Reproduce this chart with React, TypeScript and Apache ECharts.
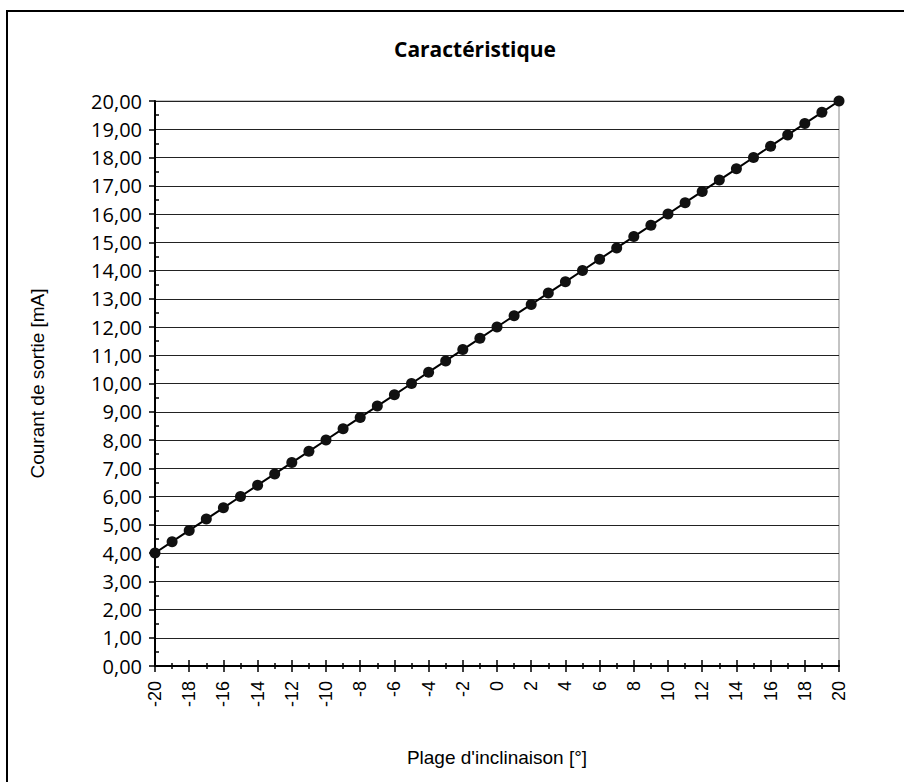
import React, { useEffect, useRef } from "react";
import * as echarts from "echarts";

const chartTitle = "Caractéristique";
const xAxisName = "Plage d'inclinaison [°]";
const yAxisName = "Courant de sortie [mA]";

const inclinaison = [
  -20, -19, -18, -17, -16, -15, -14, -13, -12, -11, -10, -9, -8, -7, -6, -5, -4, -3, -2, -1,
  0, 1, 2, 3, 4, 5, 6, 7, 8, 9, 10, 11, 12, 13, 14, 15, 16, 17, 18, 19, 20,
];
const courant = [
  4.0, 4.4, 4.8, 5.2, 5.6, 6.0, 6.4, 6.8, 7.2, 7.6, 8.0, 8.4, 8.8, 9.2, 9.6, 10.0, 10.4, 10.8, 11.2, 11.6,
  12.0, 12.4, 12.8, 13.2, 13.6, 14.0, 14.4, 14.8, 15.2, 15.6, 16.0, 16.4, 16.8, 17.2, 17.6, 18.0, 18.4, 18.8, 19.2, 19.6, 20.0,
];

const fmtY = (v: number) => v.toFixed(2).replace(".", ",");

export default function App() {
  const ref = useRef<HTMLDivElement>(null);
  useEffect(() => {
    document.body.style.margin = "0";
    if (!ref.current) return;
    const chart = echarts.init(ref.current, null, { renderer: "svg" });
    const xBase = {
      type: "value" as const,
      min: -20,
      max: 20,
      interval: 2,
      position: "bottom" as const,
      splitLine: { show: false },
    };
    const yBase = {
      type: "value" as const,
      min: 0,
      max: 20,
      interval: 1,
      position: "left" as const,
    };
    chart.setOption({
      animation: false,
      backgroundColor: "#ffffff",
      grid: {
        left: 155,
        right: 65,
        top: 101,
        bottom: 116,
        show: true,
        borderColor: "#888888",
        borderWidth: 1,
        backgroundColor: "transparent",
      },
      graphic: [
        {
          type: "rect",
          shape: { x: 7, y: 11, width: 1000, height: 1000 },
          style: { fill: "none", stroke: "#000", lineWidth: 2 },
          silent: true,
        },
        {
          type: "text",
          x: 475,
          y: 49,
          style: {
            text: chartTitle,
            font: 'bold 21px "Open Sans"',
            fill: "#000",
            align: "center",
            verticalAlign: "middle",
          },
        },
      ],
      xAxis: [
        {
          ...xBase,
          name: xAxisName,
          nameLocation: "middle",
          nameGap: 82,
          nameTextStyle: { fontFamily: "Liberation Sans", fontSize: 19, color: "#000" },
          axisLine: { show: true, onZero: false, lineStyle: { color: "#000", width: 2 } },
          axisTick: { show: true, length: 6, inside: false, lineStyle: { color: "#000", width: 1.5 } },
          minorTick: { show: true, splitNumber: 2, length: 3, lineStyle: { color: "#000", width: 1.5 } },
          axisLabel: {
            show: true,
            rotate: 90,
            margin: 15,
            fontFamily: "Liberation Sans",
            fontSize: 18,
            color: "#000",
            formatter: (v: number) => String(v),
          },
        },
        {
          ...xBase,
          axisLine: { show: false, onZero: false },
          axisTick: { show: true, length: 6, inside: true, lineStyle: { color: "#000", width: 1.5 } },
          minorTick: { show: true, splitNumber: 2, length: 3, lineStyle: { color: "#000", width: 1.5 } },
          axisLabel: { show: false },
        },
      ],
      yAxis: [
        {
          ...yBase,
          name: yAxisName,
          nameLocation: "middle",
          nameGap: 108,
          nameTextStyle: { fontFamily: "Liberation Sans", fontSize: 19, color: "#000" },
          axisLine: { show: true, onZero: false, lineStyle: { color: "#000", width: 2 } },
          axisTick: { show: true, length: 6, inside: false, lineStyle: { color: "#000", width: 1.5 } },
          splitLine: { show: true, lineStyle: { color: "#222", width: 1 } },
          axisLabel: {
            margin: 13,
            fontFamily: "Open Sans",
            fontSize: 20,
            color: "#000",
            formatter: fmtY,
          },
        },
        {
          ...yBase,
          axisLine: { show: false, onZero: false },
          axisTick: { show: false, inside: true },
          minorTick: { show: true, splitNumber: 2, length: 4, lineStyle: { color: "#000", width: 1.5 } },
          splitLine: { show: false },
          axisLabel: { show: false },
        },
      ],
      series: [
        {
          type: "line",
          xAxisIndex: 0,
          yAxisIndex: 0,
          data: inclinaison.map((x, i) => [x, courant[i]]),
          symbol: "circle",
          symbolSize: 11,
          showSymbol: true,
          lineStyle: { color: "#000", width: 2 },
          itemStyle: { color: "#111", borderColor: "#111", borderWidth: 0 },
          z: 5,
        },
      ],
    });
    return () => chart.dispose();
  }, []);
  return <div ref={ref} style={{ width: 904, height: 782 }} />;
}
